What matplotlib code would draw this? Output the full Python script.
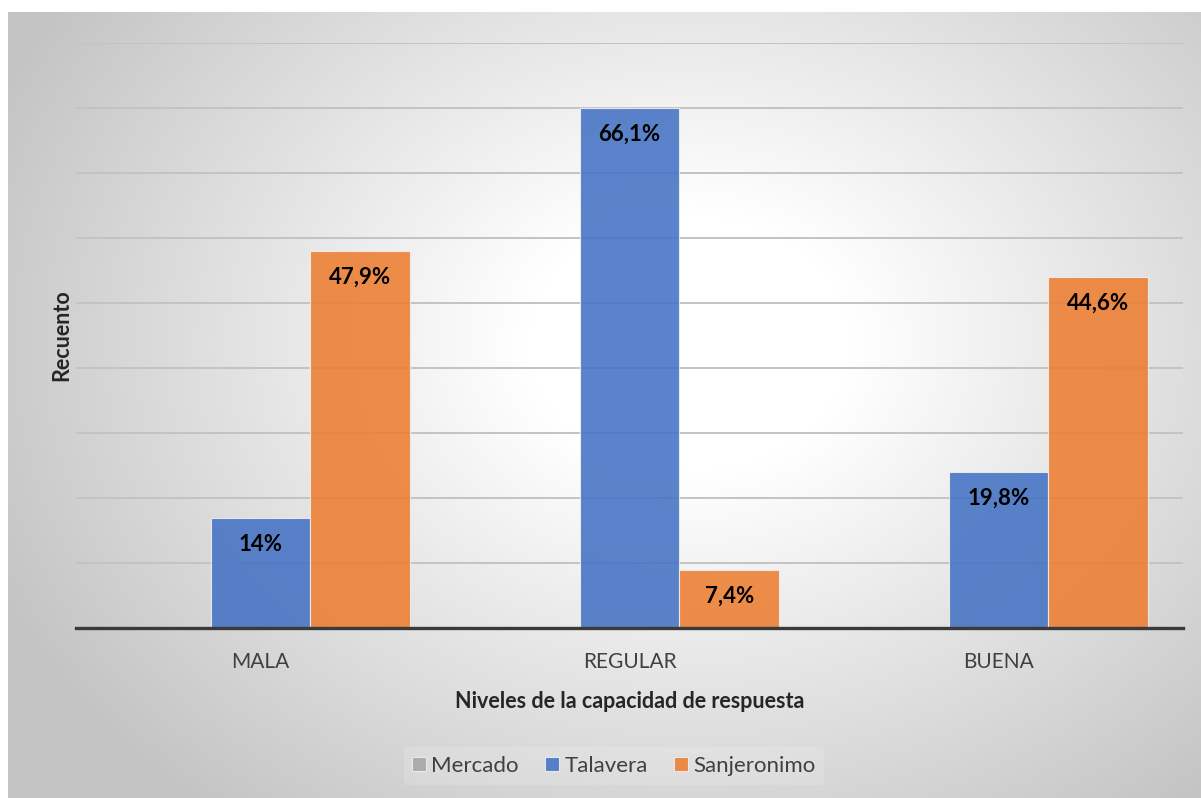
import numpy as np
import matplotlib.pyplot as plt

# ---------------- data ----------------
categories = ["MALA", "REGULAR", "BUENA"]
series = ["Mercado", "Talavera", "Sanjeronimo"]
mercado = [0, 0, 0]
talavera = [17, 80, 24]          # counts (n = 121)
sanjeronimo = [58, 9, 54]        # counts (n = 121)
talavera_lbl = ["14%", "66,1%", "19,8%"]
sanjeronimo_lbl = ["47,9%", "7,4%", "44,6%"]

colors = ["#A5A5A5", "#4472C4", "#ED7D31"]

plt.rcParams["font.family"] = ["Lato", "DejaVu Sans"]

W, H = 1201, 798
fig = plt.figure(figsize=(W / 100, H / 100), dpi=100)
fig.patch.set_facecolor("white")

# ---- chart area background: radial gradient ----
bg = fig.add_axes([8 / W, 0, 1 - 8 / W, (H - 12) / H])
bg.set_axis_off()
ny, nx = 400, 600
yy, xx = np.mgrid[0:ny, 0:nx]
cx, cy = 0.57 * nx, 0.42 * ny
d = np.sqrt(((xx - cx) / (0.62 * nx)) ** 2 + ((yy - cy) / (0.75 * ny)) ** 2)
t = np.clip((d - 0.22) / 0.8, 0, 1)
grey = 1.0 - t * (1.0 - 0.77)
img = np.dstack([grey, grey, grey])
bg.imshow(img, aspect="auto", extent=[0, 1, 0, 1], origin="upper")
bg.set_xlim(0, 1)
bg.set_ylim(0, 1)

# ---------------- plot ----------------
ax = fig.add_axes([76 / W, (H - 628) / H, (1183 - 76) / W, (628 - 43) / H])
ax.patch.set_alpha(0)

x = np.arange(len(categories))
w = 0.271
vals = [mercado, talavera, sanjeronimo]
for i, (name, v, c) in enumerate(zip(series, vals, colors)):
    ax.bar(x + (i - 1) * w, v, w, color=c, alpha=0.88, edgecolor="#f0f0f0",
           linewidth=0.8, label=name, zorder=3)

for xi, v, lbl in zip(x, talavera, talavera_lbl):
    ax.text(xi, v - 4.1, lbl, ha="center", va="center", fontsize=16,
            fontweight="bold", color="black", zorder=4)
for xi, v, lbl in zip(x + w, sanjeronimo, sanjeronimo_lbl):
    ax.text(xi, v - 4.1, lbl, ha="center", va="center", fontsize=16,
            fontweight="bold", color="black", zorder=4)

ax.set_xlim(-0.5, 2.5)
ax.set_ylim(0, 90)
ax.set_yticks(np.arange(0, 91, 10))
ax.yaxis.grid(True, color="#c3c3c3", linewidth=1.4, zorder=0)
ax.tick_params(axis="y", left=False, labelleft=False)
ax.set_xticks(x)
ax.set_xticklabels(categories, fontsize=15, color="#404040")
ax.tick_params(axis="x", length=0, pad=17)
for s in ["top", "right", "left"]:
    ax.spines[s].set_visible(False)
ax.spines["bottom"].set_color("#3a3a3a")
ax.spines["bottom"].set_linewidth(2.4)
ax.spines["bottom"].set_zorder(5)

ax.set_xlabel("Niveles de la capacidad de respuesta", fontsize=15.5,
              fontweight="bold", color="#262626", labelpad=14)
ax.set_ylabel("Recuento", fontsize=15.5, fontweight="bold", color="#262626",
              labelpad=3)

leg = fig.legend(loc="center", bbox_to_anchor=(614 / W, 1 - 766 / H), ncol=3,
                 frameon=True, fontsize=16, handlelength=0.6, handleheight=0.6,
                 handletextpad=0.25, columnspacing=1.2, borderpad=0.4)
leg.get_frame().set_facecolor("white")
leg.get_frame().set_alpha(0.15)
leg.get_frame().set_edgecolor("none")
for t_ in leg.get_texts():
    t_.set_color("#404040")

fig.savefig("out.png", dpi=100)
